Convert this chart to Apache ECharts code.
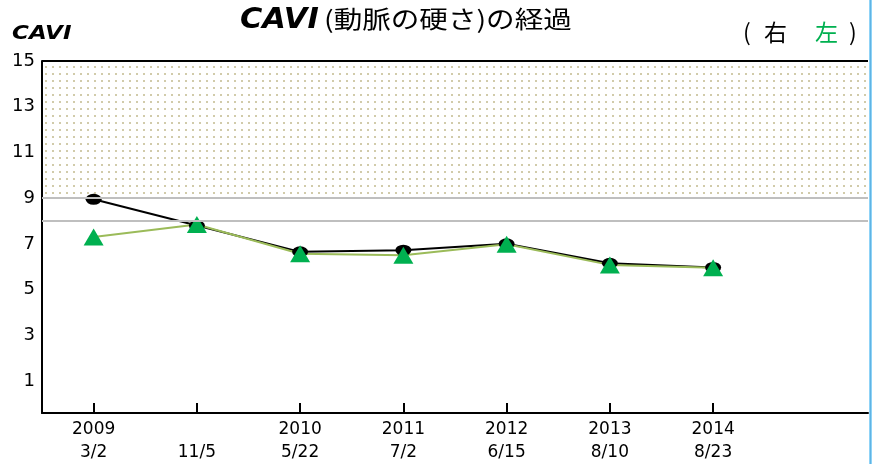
<!DOCTYPE html>
<html>
<head>
<meta charset="utf-8">
<script src="https://cdn.jsdelivr.net/npm/echarts@6/dist/echarts.min.js"></script>
<style>
html,body{margin:0;padding:0;background:#fff;}
#chart{width:873px;height:464px;}
</style>
</head>
<body>
<div id="chart"></div>
<script>
// ---- data ----
const years = ['2009', '', '2010', '2011', '2012', '2013', '2014'];
const dates = ['3/2', '11/5', '5/22', '7/2', '6/15', '8/10', '8/23'];
const rightVals = [8.95, 7.8, 6.65, 6.72, 7.0, 6.15, 5.97];   // 右 (black)
const leftVals  = [7.3, 7.85, 6.57, 6.5, 6.98, 6.08, 5.95];   // 左 (green)
const yTickValues = [1, 3, 5, 7, 9, 11, 13, 15];
const refLines = [9, 8];
const zoneRange = [9, 15];
const titleMain = 'CAVI';
const titleSub = '(動脈の硬さ)の経過';
const axisName = 'CAVI';
const seriesNames = ['右', '左'];

// ---- build ----
const categories = years.map((y, i) => y + '\n' + dates[i]).concat(['']);

const pat = document.createElement('canvas');
pat.width = 7; pat.height = 7;
const pctx = pat.getContext('2d');
pctx.fillStyle = 'rgba(185,175,125,0.65)';
pctx.fillRect(3, 3, 2, 2);

const chart = echarts.init(document.getElementById('chart'), null, {renderer: 'canvas'});
const labelFont = '"DejaVu Sans", sans-serif';
const cjk = '"Noto Sans CJK JP", sans-serif';

chart.setOption({
  animation: false,
  backgroundColor: '#fff',
  grid: {left: 42, right: 5, top: 61, bottom: 51, containLabel: false},
  xAxis: {
    type: 'category',
    data: categories,
    boundaryGap: true,
    axisLine: {onZero: false, lineStyle: {color: '#000', width: 2}},
    axisTick: {
      show: true, alignWithLabel: true, inside: true, length: 10,
      interval: (i, v) => v !== '',
      lineStyle: {color: '#000', width: 2}
    },
    axisLabel: {
      interval: 0, color: '#000', fontSize: 17, lineHeight: 23, margin: 5,
      fontFamily: labelFont
    },
    splitLine: {show: false}
  },
  yAxis: {
    type: 'value',
    min: -0.4, max: 15,
    axisLine: {show: true, onZero: false, lineStyle: {color: '#000', width: 2}},
    axisTick: {show: false},
    splitLine: {show: false},
    axisLabel: {
      customValues: yTickValues, color: '#000', fontSize: 18, margin: 7,
      fontFamily: labelFont
    }
  },
  series: [
    {
      name: seriesNames[0],
      type: 'line',
      data: rightVals,
      symbol: 'circle',
      symbolSize: [16, 11],
      itemStyle: {color: '#000'},
      lineStyle: {color: '#000', width: 2},
      markArea: {
        silent: true,
        itemStyle: {color: {image: pat, repeat: 'repeat'}},
        data: [[{yAxis: zoneRange[0]}, {yAxis: zoneRange[1]}]]
      },
      markLine: {
        silent: true,
        symbol: ['none', 'none'],
        label: {show: false},
        lineStyle: {color: '#bfbfbf', width: 2, type: 'solid'},
        data: refLines.map(v => ({yAxis: v})).concat([
          {yAxis: zoneRange[1], lineStyle: {color: '#000', width: 2, type: 'solid'}}
        ])
      }
    },
    {
      name: seriesNames[1],
      type: 'line',
      data: leftVals,
      symbol: 'triangle',
      symbolSize: [20, 17],
      itemStyle: {color: '#00b050'},
      lineStyle: {color: '#9bbb59', width: 2}
    }
  ],
  graphic: [
    {
      type: 'text', x: 240, y: 6, scaleX: 1.05,
      style: {text: titleMain, font: 'italic bold 29px "DejaVu Sans", sans-serif', fill: '#000'}
    },
    {
      type: 'text', x: 324, y: 7, scaleX: 1.19,
      style: {text: titleSub, font: '24px ' + cjk, fill: '#000'}
    },
    {
      type: 'text', x: 12, y: 24, scaleX: 1.15,
      style: {text: axisName, font: 'italic bold 20px "DejaVu Sans", sans-serif', fill: '#000'}
    },
    {
      type: 'text', x: 743, y: 21,
      style: {
        text: '{p|(}{a|' + seriesNames[0] + '}{b|' + seriesNames[1] + '}{q|)}',
        font: '23px ' + cjk, fill: '#000',
        rich: {
          p: {fill: '#000', font: '23px ' + cjk, width: 21},
          a: {fill: '#000', font: '23px ' + cjk, width: 51},
          b: {fill: '#00b050', font: '23px ' + cjk, width: 34},
          q: {fill: '#000', font: '23px ' + cjk}
        }
      }
    },
    {type: 'rect', shape: {x: 869, y: 0, width: 3, height: 464}, style: {fill: '#8fd3f7'}},
    {type: 'rect', shape: {x: 870, y: 0, width: 1, height: 464}, style: {fill: '#5fb4e4'}}
  ]
});
</script>
</body>
</html>
